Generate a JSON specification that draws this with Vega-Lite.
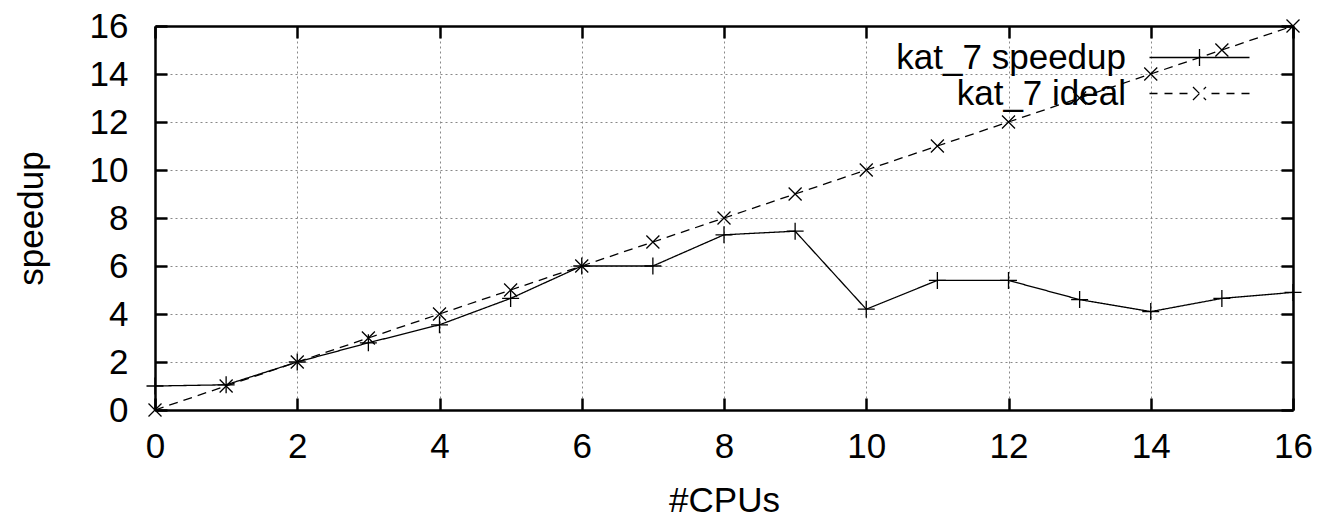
{
  "$schema": "https://vega.github.io/schema/vega-lite/v6.json",
  "width": 1138,
  "height": 384,
  "autosize": {"type": "none"},
  "padding": {"left": 155, "top": 26, "right": 32, "bottom": 110},
  "background": "white",
  "config": {"font": "Liberation Sans", "view": {"stroke": null}},
  "data": {"values": [
    {"cpus": 0, "value": 1.0, "series": "kat_7 speedup"},
    {"cpus": 1, "value": 1.05, "series": "kat_7 speedup"},
    {"cpus": 2, "value": 2.0, "series": "kat_7 speedup"},
    {"cpus": 3, "value": 2.8, "series": "kat_7 speedup"},
    {"cpus": 4, "value": 3.55, "series": "kat_7 speedup"},
    {"cpus": 5, "value": 4.65, "series": "kat_7 speedup"},
    {"cpus": 6, "value": 6.0, "series": "kat_7 speedup"},
    {"cpus": 7, "value": 6.0, "series": "kat_7 speedup"},
    {"cpus": 8, "value": 7.3, "series": "kat_7 speedup"},
    {"cpus": 9, "value": 7.45, "series": "kat_7 speedup"},
    {"cpus": 10, "value": 4.2, "series": "kat_7 speedup"},
    {"cpus": 11, "value": 5.4, "series": "kat_7 speedup"},
    {"cpus": 12, "value": 5.4, "series": "kat_7 speedup"},
    {"cpus": 13, "value": 4.6, "series": "kat_7 speedup"},
    {"cpus": 14, "value": 4.1, "series": "kat_7 speedup"},
    {"cpus": 15, "value": 4.65, "series": "kat_7 speedup"},
    {"cpus": 16, "value": 4.9, "series": "kat_7 speedup"},
    {"cpus": 0, "value": 0, "series": "kat_7 ideal"},
    {"cpus": 1, "value": 1, "series": "kat_7 ideal"},
    {"cpus": 2, "value": 2, "series": "kat_7 ideal"},
    {"cpus": 3, "value": 3, "series": "kat_7 ideal"},
    {"cpus": 4, "value": 4, "series": "kat_7 ideal"},
    {"cpus": 5, "value": 5, "series": "kat_7 ideal"},
    {"cpus": 6, "value": 6, "series": "kat_7 ideal"},
    {"cpus": 7, "value": 7, "series": "kat_7 ideal"},
    {"cpus": 8, "value": 8, "series": "kat_7 ideal"},
    {"cpus": 9, "value": 9, "series": "kat_7 ideal"},
    {"cpus": 10, "value": 10, "series": "kat_7 ideal"},
    {"cpus": 11, "value": 11, "series": "kat_7 ideal"},
    {"cpus": 12, "value": 12, "series": "kat_7 ideal"},
    {"cpus": 13, "value": 13, "series": "kat_7 ideal"},
    {"cpus": 14, "value": 14, "series": "kat_7 ideal"},
    {"cpus": 15, "value": 15, "series": "kat_7 ideal"},
    {"cpus": 16, "value": 16, "series": "kat_7 ideal"}
  ]},
  "layer": [
    {
      "mark": {"type": "line", "color": "black", "strokeWidth": 1.3},
      "encoding": {
        "x": {"field": "cpus", "type": "quantitative", "scale": {"domain": [0, 16], "nice": false},
          "axis": {"orient": "bottom", "title": "#CPUs", "values": [0,2,4,6,8,10,12,14,16], "grid": true, "gridColor": "#888888", "gridDash": [2,3], "gridWidth": 1,
            "domainColor": "black", "domainWidth": 2.5, "ticks": true, "tickColor": "black", "tickWidth": 2.5, "tickSize": -12, "labelPadding": 31, "labelFlush": false,
            "labelFontSize": 35, "labelColor": "black", "labelFont": "Liberation Sans", "titleFontSize": 35, "titleFont": "Liberation Sans", "titleFontWeight": "normal", "titleColor": "black", "titlePadding": 19}},
        "y": {"field": "value", "type": "quantitative", "scale": {"domain": [0, 16], "nice": false},
          "axis": {"orient": "left", "title": "speedup", "values": [0,2,4,6,8,10,12,14,16], "grid": true, "gridColor": "#888888", "gridDash": [2,3], "gridWidth": 1,
            "domainColor": "black", "domainWidth": 2.5, "ticks": true, "tickColor": "black", "tickWidth": 2.5, "tickSize": -12, "labelPadding": 39, "labelFlush": false,
            "labelFontSize": 35, "labelColor": "black", "labelFont": "Liberation Sans", "titleFontSize": 35, "titleFont": "Liberation Sans", "titleFontWeight": "normal", "titleColor": "black", "titlePadding": 40}},
        "strokeDash": {"field": "series", "type": "nominal",
          "scale": {"domain": ["kat_7 speedup", "kat_7 ideal"], "range": [[1, 0], [9, 6]]},
          "legend": {"orient": "none", "legendX": 1027, "legendY": 14, "title": null, "padding": 0, "rowPadding": -3,
            "labelFontSize": 35, "labelFont": "Liberation Sans", "labelColor": "black", "labelAlign": "right", "labelOffset": -91, "labelLimit": 400,
            "symbolSize": 100, "symbolStrokeColor": "black", "symbolStrokeWidth": 1.3, "symbolFillColor": "transparent", "symbolOpacity": 1,
            "encode": {"symbols": {"update": {"opacity": {"value": 1}, "size": {"value": 100}, "strokeDash": {"value": [1, 0]},
              "shape": {"signal": "datum.value === 'kat_7 speedup' ? 'M-10,0L10,0M0,-1.7L0,1.7' : 'M-10,0L-8.4,0M-7,0L-5.4,0M-4,0L-2.4,0M2.4,0L4,0M5.4,0L7,0M8.4,0L10,0M-1.3,-1.3L1.3,1.3M-1.3,1.3L1.3,-1.3'"}}}}}
        }
      }
    },
    {
      "transform": [{"filter": "datum.series === 'kat_7 speedup'"}],
      "mark": {"type": "point", "filled": false, "stroke": "black", "strokeWidth": 1.3, "size": 100, "opacity": 1, "shape": "M-1.7,0L1.7,0M0,-1.7L0,1.7"},
      "encoding": {
        "x": {"field": "cpus", "type": "quantitative",
          "axis": {"orient": "top", "title": null, "labels": false, "values": [0,2,4,6,8,10,12,14,16], "grid": false,
            "domainColor": "black", "domainWidth": 2.5, "ticks": true, "tickColor": "black", "tickWidth": 2.5, "tickSize": -12}},
        "y": {"field": "value", "type": "quantitative",
          "axis": {"orient": "right", "title": null, "labels": false, "values": [0,2,4,6,8,10,12,14,16], "grid": false,
            "domainColor": "black", "domainWidth": 2.5, "ticks": true, "tickColor": "black", "tickWidth": 2.5, "tickSize": -12}}
      }
    },
    {
      "transform": [{"filter": "datum.series === 'kat_7 ideal'"}],
      "mark": {"type": "point", "filled": false, "stroke": "black", "strokeWidth": 1.3, "size": 100, "opacity": 1, "shape": "M-1.3,-1.3L1.3,1.3M-1.3,1.3L1.3,-1.3"},
      "encoding": {
        "x": {"field": "cpus", "type": "quantitative", "axis": null},
        "y": {"field": "value", "type": "quantitative", "axis": null}
      }
    }
  ],
  "resolve": {"axis": {"x": "independent", "y": "independent"}}
}
